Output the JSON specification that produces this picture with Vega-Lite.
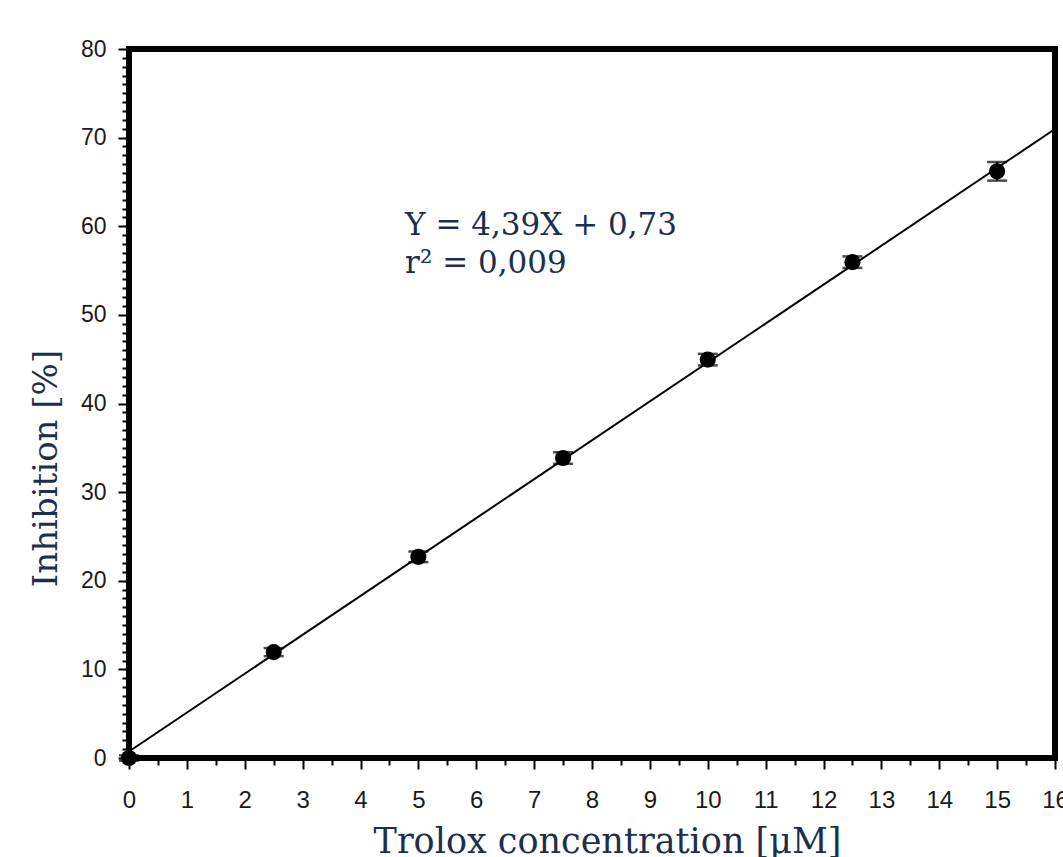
{
  "$schema": "https://vega.github.io/schema/vega-lite/v6.json",
  "width": 926,
  "height": 709,
  "autosize": {"type": "none"},
  "padding": {"left": 129, "top": 49, "right": 8, "bottom": 99},
  "background": "white",
  "config": {
    "view": {"stroke": "black", "strokeWidth": 6},
    "axis": {"grid": false, "domain": false}
  },
  "datasets": {
    "pts": [
      {"x": 0, "y": 0, "err": 0.3},
      {"x": 2.5, "y": 11.95, "err": 0.45},
      {"x": 5, "y": 22.7, "err": 0.6},
      {"x": 7.5, "y": 33.85, "err": 0.65},
      {"x": 10, "y": 44.95, "err": 0.65},
      {"x": 12.5, "y": 55.95, "err": 0.65},
      {"x": 15, "y": 66.2, "err": 1.05}
    ],
    "fit": [
      {"x": 0, "y": 0.73},
      {"x": 16, "y": 70.97}
    ],
    "note": [
      {"x": 4.77, "y": 59.0, "label": "Y = 4,39X + 0,73"},
      {"x": 4.77, "y": 54.7, "label": "r² = 0,009"}
    ]
  },
  "encoding": {
    "x": {
      "field": "x", "type": "quantitative",
      "title": "Trolox concentration [µM]",
      "scale": {"domain": [0, 16], "nice": false, "zero": false},
      "axis": {
        "title": "Trolox concentration [µM]",
        "titleFont": "DejaVu Serif", "titleFontSize": 35, "titleFontWeight": "normal",
        "titleColor": "#1c2f4e", "titleX": 478, "titleY": 66, "titleBaseline": "top",
        "values": [0,0.5,1,1.5,2,2.5,3,3.5,4,4.5,5,5.5,6,6.5,7,7.5,8,8.5,9,9.5,10,10.5,11,11.5,12,12.5,13,13.5,14,14.5,15,15.5,16],
        "labelExpr": "datum.value % 1 === 0 ? format(datum.value, 'd') : ''",
        "labelFont": "Liberation Sans", "labelFontSize": 24, "labelColor": "#1a1a1a",
        "labelOverlap": false, "labelFlush": false, "labelPadding": 19,
        "tickColor": "black", "tickWidth": 2,
        "tickSize": {"condition": {"test": "datum.value % 1 === 0", "value": 11}, "value": 7}
      }
    },
    "y": {
      "field": "y", "type": "quantitative",
      "title": "Inhibition [%]",
      "scale": {"domain": [0, 80], "nice": false, "zero": false},
      "axis": {
        "title": "Inhibition [%]",
        "titleFont": "DejaVu Serif", "titleFontSize": 34, "titleFontWeight": "normal",
        "titleColor": "#1c2f4e", "titleX": -66, "titleY": 419, "titleAngle": -90, "titleBaseline": "bottom", "titleAlign": "center",
        "values": [0,1,2,3,4,5,6,7,8,9,10,11,12,13,14,15,16,17,18,19,20,21,22,23,24,25,26,27,28,29,30,31,32,33,34,35,36,37,38,39,40,41,42,43,44,45,46,47,48,49,50,51,52,53,54,55,56,57,58,59,60,61,62,63,64,65,66,67,68,69,70,71,72,73,74,75,76,77,78,79,80],
        "labelExpr": "datum.value % 10 === 0 ? format(datum.value, 'd') : ''",
        "labelFont": "Liberation Sans", "labelFontSize": 23, "labelColor": "#1a1a1a",
        "labelOverlap": false, "labelFlush": false, "labelPadding": 12,
        "tickColor": "black", "tickWidth": 2,
        "tickSize": {"condition": {"test": "datum.value % 10 === 0", "value": 11}, "value": 7}
      }
    }
  },
  "layer": [
    {
      "data": {"name": "fit"},
      "mark": {"type": "line", "color": "black", "strokeWidth": 2}
    },
    {
      "data": {"name": "pts"},
      "mark": {"type": "errorbar", "ticks": {"size": 20, "thickness": 2.5, "color": "black"}, "rule": {"strokeWidth": 2, "color": "black"}},
      "encoding": {
        "yError": {"field": "err"}
      }
    },
    {
      "data": {"name": "pts"},
      "mark": {"type": "point", "filled": true, "color": "black", "opacity": 1, "size": 260}
    },
    {
      "data": {"name": "note"},
      "mark": {
        "type": "text",
        "font": "DejaVu Serif", "fontSize": 31, "color": "#1c2f4e",
        "align": "left", "baseline": "alphabetic"
      },
      "encoding": {
        "text": {"field": "label", "type": "nominal"}
      }
    }
  ]
}
